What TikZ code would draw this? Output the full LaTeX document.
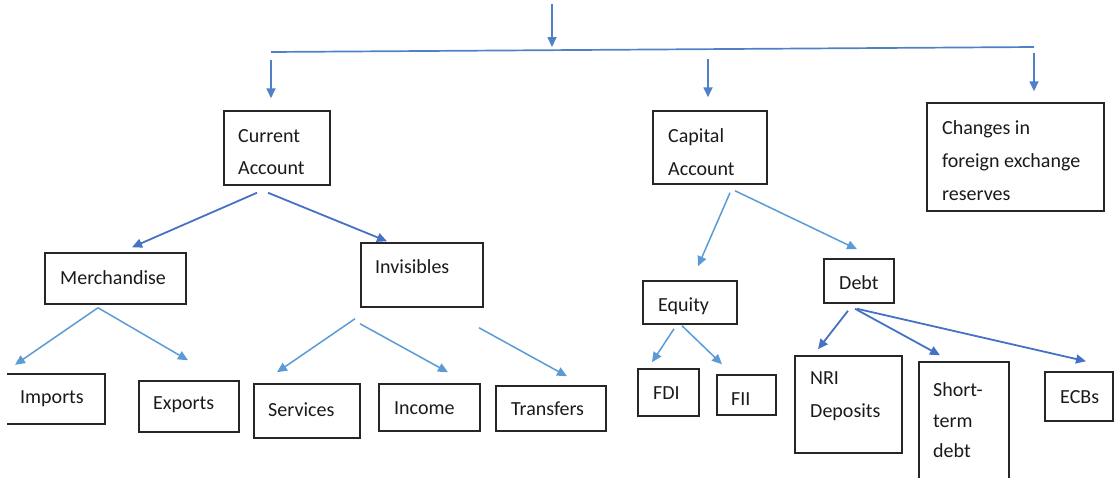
\documentclass[tikz,border=0pt]{standalone}
\usepackage{fontspec}
\setmainfont{Carlito}
\usetikzlibrary{arrows.meta,calc}
\definecolor{boxline}{HTML}{262626}
\definecolor{txt}{HTML}{1A1A1A}
\definecolor{linkdark}{HTML}{4472C4}
\definecolor{linklight}{HTML}{5B9BD5}
\definecolor{busblue}{HTML}{4F81C7}
\begin{document}
\begin{tikzpicture}[x=1pt,y=-1pt,
  box/.style={draw=boxline, line width=1.5pt, rectangle, inner sep=0pt},
  lbl/.style={anchor=west, inner sep=0pt, align=left, text=txt,
              font=\fontsize{20}{32.5}\selectfont},
  link/.style={draw=linklight, line width=1.5pt,
               -{Triangle[length=10pt,width=9pt]}},
  linkd/.style={link, draw=linkdark, line width=1.8pt},
  busline/.style={draw=busblue, line width=1.7pt},
  busarrow/.style={link, draw=busblue, line width=1.7pt},
]
\useasboundingbox (0,0) rectangle (1118,477);
\clip (0,0) rectangle (1118,477);

% ---------- first level ----------
\node[box, minimum width=106pt, minimum height=74pt]  (cur) at (277,148) {};
\node[lbl] (curT) at (238,152) {Current\\Account};

\node[box, minimum width=114pt, minimum height=73pt]  (cap) at (710,147.5) {};
\node[lbl] (capT) at (668,152) {Capital\\Account};

\node[box, minimum width=177pt, minimum height=108pt] (chg) at (1015.5,157) {};
\node[lbl, font=\fontsize{20}{33}\selectfont] (chgT) at (942,161) {Changes in\\foreign exchange\\reserves};

% ---------- second level ----------
\node[box, minimum width=141pt, minimum height=51pt] (merch) at (115.5,278.5) {};
\node[lbl] (merchT) at (60,278) {Merchandise};

\node[box, minimum width=122pt, minimum height=64pt] (invis) at (422,275) {};
\node[lbl] (invisT) at (375,267) {Invisibles};

\node[box, minimum width=94pt, minimum height=43pt]  (eq) at (690,302.5) {};
\node[lbl] (eqT) at (658,306) {Equity};

\node[box, minimum width=70pt, minimum height=44pt]  (debt) at (859,281) {};
\node[lbl] (debtT) at (839,283) {Debt};

% ---------- third level ----------
\node[inner sep=0pt, minimum width=98pt, minimum height=50pt] (imp) at (56,399) {};
\draw[draw=boxline, line width=1.5pt]
  (imp.north west) -- (imp.north east) -- (imp.south east) -- (imp.south west);
\node[lbl] (impT) at (20,399) {Imports};

\node[box, minimum width=100pt, minimum height=51pt] (exp) at (189,406.5) {};
\node[lbl] (expT) at (153,405) {Exports};

\node[box, minimum width=106pt, minimum height=54pt] (serv) at (307,411) {};
\node[lbl] (servT) at (268,410) {Services};

\node[box, minimum width=101pt, minimum height=47pt] (inc) at (429.5,407.5) {};
\node[lbl] (incT) at (394,408) {Income};

\node[box, minimum width=110pt, minimum height=45pt] (trans) at (551,408.5) {};
\node[lbl] (transT) at (511,409) {Transfers};

\node[box, minimum width=61pt, minimum height=47pt]  (fdi) at (668.5,392.5) {};
\node[lbl] (fdiT) at (653,393) {FDI};

\node[box, minimum width=59pt, minimum height=40pt]  (fii) at (746.5,395) {};
\node[lbl] (fiiT) at (731,399) {FII};

\node[box, minimum width=107pt, minimum height=97pt] (nri) at (848.5,404.5) {};
\node[lbl, font=\fontsize{20}{33}\selectfont] (nriT) at (810,396.5) {NRI\\Deposits};

\node[box, minimum width=90pt, minimum height=130pt] (short) at (964,427) {};
\node[lbl, font=\fontsize{20}{30.5}\selectfont] (shortT) at (933,420.5) {Short-\\term\\debt};

\node[box, minimum width=68pt, minimum height=49pt]  (ecbs) at (1079,396.5) {};
\node[lbl] (ecbsT) at (1060,397) {ECBs};

% ---------- distribution bar ----------
\coordinate (rootTop) at (552,4);
\coordinate (busIn)   at (552,47);
\coordinate (busL)    at (271,52);
\coordinate (busR)    at (1034,47);

\draw[busarrow] (rootTop) -- (busIn);
\draw[busline]  (busL) -- (busR);

\draw[busarrow] ($(busL)+(0,8)$) -- ($(cur.north)+(-6,-12)$);
\draw[busarrow] ($(cap.north)+(-2,-51)$) -- ($(cap.north)+(-2,-13)$);
\draw[busarrow] ($(busR)+(0,6)$) -- ($(chg.north)+(18.5,-11)$);

% ---------- current account ----------
\draw[linkd] ($(cur.south)+(-20,7)$) -- ($(merch.north)+(16.5,-5)$);
\draw[linkd] ($(cur.south)+(-9,7)$)  -- ($(invis.north)+(-35,-1)$);

\draw[link] ($(merch.south)+(-17.5,3)$) -- ($(imp.north)+(-41,-9)$);
\draw[link] ($(merch.south)+(-17.5,3)$) -- ($(exp.north)+(-1,-20)$);

\draw[link] ($(invis.south)+(-67,11)$) -- ($(serv.north)+(-30,-11)$);
\draw[link] ($(invis.south)+(-62,16)$) -- ($(inc.north)+(18.5,-11)$);
\draw[link] ($(invis.south)+(57,20)$)  -- ($(trans.north)+(16,-9)$);

% ---------- capital account ----------
\draw[link] ($(cap.south)+(20,8)$) -- ($(eq.north)+(8,-14)$);
\draw[link] ($(cap.south)+(25,6)$) -- ($(debt.north)+(-2,-9)$);

\draw[link] ($(eq.south)+(-16,4)$) -- ($(fdi.north)+(-16.5,-6)$);
\draw[link] ($(eq.south)+(-8,1)$)  -- ($(fii.north)+(-24.5,-10)$);

\draw[linkd] ($(debt.south)+(-11,7)$) -- ($(nri.north)+(-30.5,-6)$);
\draw[linkd] ($(debt.south)+(-4,5)$)  -- ($(short.north)+(-24,-6)$);
\draw[linkd] ($(debt.south)+(-2,5)$)  -- ($(ecbs.north)+(7,-10)$);
\end{tikzpicture}
\end{document}
